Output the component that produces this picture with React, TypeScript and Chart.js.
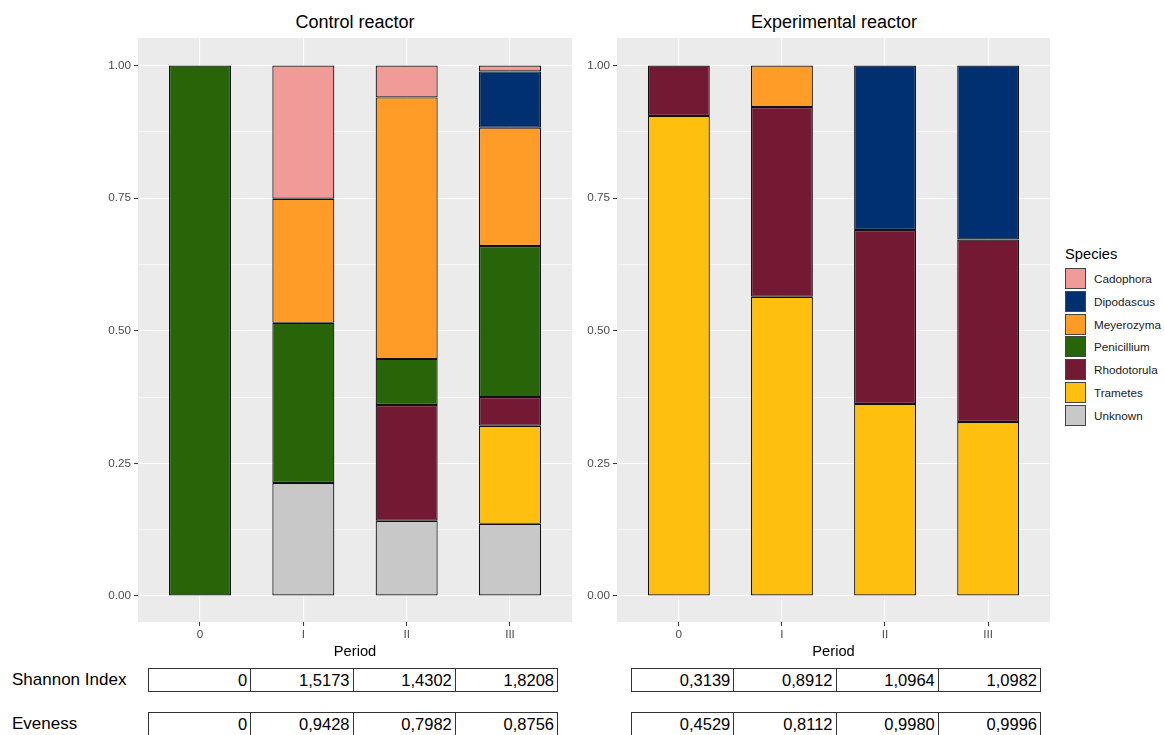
import React, { useEffect, useRef } from "react";
import { Chart, registerables } from "chart.js";

Chart.register(...registerables);

const FONT = "'Liberation Sans', Arial, sans-serif";

// ---------- data ----------
const periods = ["0", "I", "II", "III"];
const yTickValues = [0, 0.125, 0.25, 0.375, 0.5, 0.625, 0.75, 0.875, 1];
const yMajorStep = 0.25;

const species = ["Cadophora", "Dipodascus", "Meyerozyma", "Penicillium", "Rhodotorula", "Trametes", "Unknown"];
const speciesColors = ["#F09B98", "#00306F", "#FF9C28", "#286408", "#731933", "#FFBF0E", "#C8C8C8"];

// Control reactor (relative abundance per period)
const controlCadophora = [0, 0.251, 0.06, 0.011];
const controlDipodascus = [0, 0, 0, 0.106];
const controlMeyerozyma = [0, 0.234, 0.493, 0.223];
const controlPenicillium = [1, 0.302, 0.087, 0.285];
const controlRhodotorula = [0, 0, 0.218, 0.054];
const controlTrametes = [0, 0, 0, 0.185];
const controlUnknown = [0, 0.213, 0.142, 0.136];

// Experimental reactor
const expCadophora = [0, 0, 0, 0];
const expDipodascus = [0, 0, 0.31, 0.328];
const expMeyerozyma = [0, 0.078, 0, 0];
const expPenicillium = [0, 0, 0, 0];
const expRhodotorula = [0.095, 0.358, 0.328, 0.344];
const expTrametes = [0.905, 0.564, 0.362, 0.328];
const expUnknown = [0, 0, 0, 0];

const controlSeries = [
  controlCadophora, controlDipodascus, controlMeyerozyma, controlPenicillium,
  controlRhodotorula, controlTrametes, controlUnknown,
];
const experimentalSeries = [
  expCadophora, expDipodascus, expMeyerozyma, expPenicillium,
  expRhodotorula, expTrametes, expUnknown,
];

const shannonControl = ["0", "1,5173", "1,4302", "1,8208"];
const evenessControl = ["0", "0,9428", "0,7982", "0,8756"];
const shannonExperimental = ["0,3139", "0,8912", "1,0964", "1,0982"];
const evenessExperimental = ["0,4529", "0,8112", "0,9980", "0,9996"];

// ---------- chart ----------
const panelBackground = {
  id: "panelBackground",
  beforeDraw(chart: any) {
    const { ctx, chartArea } = chart;
    ctx.save();
    ctx.fillStyle = "#EBEBEB";
    ctx.fillRect(chartArea.left, chartArea.top, chartArea.right - chartArea.left, chartArea.bottom - chartArea.top);
    ctx.restore();
  },
};

const isMajor = (v: number) => Math.abs(v / yMajorStep - Math.round(v / yMajorStep)) < 1e-9;

function StackedPanel({ series, left, top, width, height }: any) {
  const ref = useRef<HTMLCanvasElement>(null);
  useEffect(() => {
    const datasets = species
      .map((name, s) => ({
        label: name,
        data: series[s].map((v: number, i: number) => ({ x: i, y: v })).filter((p: any) => p.y > 0),
        backgroundColor: speciesColors[s],
        borderColor: "#111111",
        borderWidth: 1.2,
        borderSkipped: false,
        barPercentage: 0.6,
        categoryPercentage: 1,
      }))
      .reverse();
    const chart = new Chart(ref.current as HTMLCanvasElement, {
      type: "bar",
      data: { datasets } as any,
      options: {
        animation: false,
        responsive: false,
        layout: { padding: 0 },
        plugins: {
          legend: { display: false },
          tooltip: { enabled: false },
          title: { display: false },
        },
        scales: {
          x: {
            type: "linear",
            stacked: true,
            bounds: "data",
            offset: false,
            min: -0.6,
            max: 3.6,
            afterBuildTicks: (scale: any) => {
              scale.ticks = periods.map((_, i) => ({ value: i }));
            },
            afterFit: (scale: any) => {
              scale.height = 43;
              scale.paddingLeft = 0;
              scale.paddingRight = 0;
            },
            ticks: {
              callback: (v: any) => periods[v] ?? "",
              color: "#4D4D4D",
              font: { family: FONT, size: 11.7 },
              padding: 2,
              maxRotation: 0,
              autoSkip: false,
            },
            grid: {
              offset: false,
              color: "#FFFFFF",
              lineWidth: 1.1,
              drawTicks: true,
              tickLength: 4,
              tickWidth: 1,
              tickColor: "#333333",
            },
            border: { display: false },
            title: {
              display: true,
              text: "Period",
              color: "#000000",
              font: { family: FONT, size: 14.7 },
              padding: { top: 0, bottom: 4 },
            },
          },
          y: {
            type: "linear",
            stacked: true,
            bounds: "data",
            min: -0.049,
            max: 1.052,
            afterBuildTicks: (scale: any) => {
              scale.ticks = yTickValues.map((value) => ({ value }));
            },
            afterFit: (scale: any) => {
              scale.width = 40;
              scale.paddingTop = 0;
              scale.paddingBottom = 0;
            },
            ticks: {
              callback: (v: any) => (isMajor(Number(v)) ? Number(v).toFixed(2) : ""),
              color: "#4D4D4D",
              font: { family: FONT, size: 11.7 },
              padding: 3,
            },
            grid: {
              color: "#FFFFFF",
              lineWidth: (ctx: any) => (ctx.tick && isMajor(ctx.tick.value) ? 1.1 : 0.55),
              drawTicks: true,
              tickLength: 4,
              tickWidth: 1,
              tickColor: (ctx: any) => (ctx.tick && isMajor(ctx.tick.value) ? "#333333" : "rgba(0,0,0,0)"),
            },
            border: { display: false },
          },
        },
      } as any,
      plugins: [panelBackground],
    });
    return () => chart.destroy();
  }, [series]);
  return (
    <canvas
      ref={ref}
      width={width}
      height={height}
      style={{ position: "absolute", left, top, width, height }}
    />
  );
}

// ---------- HTML parts ----------
function PanelTitle({ text, center }: any) {
  return (
    <div
      style={{
        position: "absolute",
        left: center - 200,
        top: 11,
        width: 400,
        textAlign: "center",
        fontSize: 18,
        lineHeight: "22px",
        color: "#000",
        fontFamily: FONT,
      }}
    >
      {text}
    </div>
  );
}

function Legend() {
  return (
    <div style={{ position: "absolute", left: 1065, top: 244, fontFamily: FONT }}>
      <div style={{ fontSize: 14.7, lineHeight: "20px", color: "#000" }}>Species</div>
      {species.map((name, i) => (
        <div
          key={name}
          style={{ position: "absolute", left: 0, top: 24 + i * 22.8, height: 21, display: "flex", alignItems: "center" }}
        >
          <div
            style={{
              width: 19,
              height: 19,
              background: speciesColors[i],
              border: "1px solid #444",
            }}
          />
          <div style={{ marginLeft: 8, fontSize: 11.7, color: "#1A1A1A", whiteSpace: "nowrap" }}>{name}</div>
        </div>
      ))}
    </div>
  );
}

function ValueRow({ values, left, top }: any) {
  return (
    <table
      style={{
        position: "absolute",
        left,
        top,
        width: 410,
        borderCollapse: "collapse",
        tableLayout: "fixed",
        fontFamily: FONT,
      }}
    >
      <tbody>
        <tr>
          {values.map((v: string, i: number) => (
            <td
              key={i}
              style={{
                border: "1px solid #333",
                height: 22,
                padding: "0 3px",
                textAlign: "right",
                fontSize: 16.5,
                lineHeight: "22px",
                color: "#000",
              }}
            >
              {v}
            </td>
          ))}
        </tr>
      </tbody>
    </table>
  );
}

function RowLabel({ text, top }: any) {
  return (
    <div style={{ position: "absolute", left: 12, top, fontSize: 17, lineHeight: "24px", fontFamily: FONT, color: "#000" }}>
      {text}
    </div>
  );
}

export default function App() {
  return (
    <div
      style={{
        position: "fixed",
        left: 0,
        top: 0,
        width: 1164,
        height: 735,
        background: "#FFFFFF",
        overflow: "hidden",
      }}
    >
      <PanelTitle text="Control reactor" center={355} />
      <PanelTitle text="Experimental reactor" center={834} />
      <StackedPanel series={controlSeries} left={98} top={38} width={474} height={627} />
      <StackedPanel series={experimentalSeries} left={577} top={38} width={473} height={627} />
      <Legend />
      <RowLabel text="Shannon Index" top={668} />
      <RowLabel text="Eveness" top={712} />
      <ValueRow values={shannonControl} left={148} top={668} />
      <ValueRow values={evenessControl} left={148} top={712} />
      <ValueRow values={shannonExperimental} left={631} top={668} />
      <ValueRow values={evenessExperimental} left={631} top={712} />
    </div>
  );
}
